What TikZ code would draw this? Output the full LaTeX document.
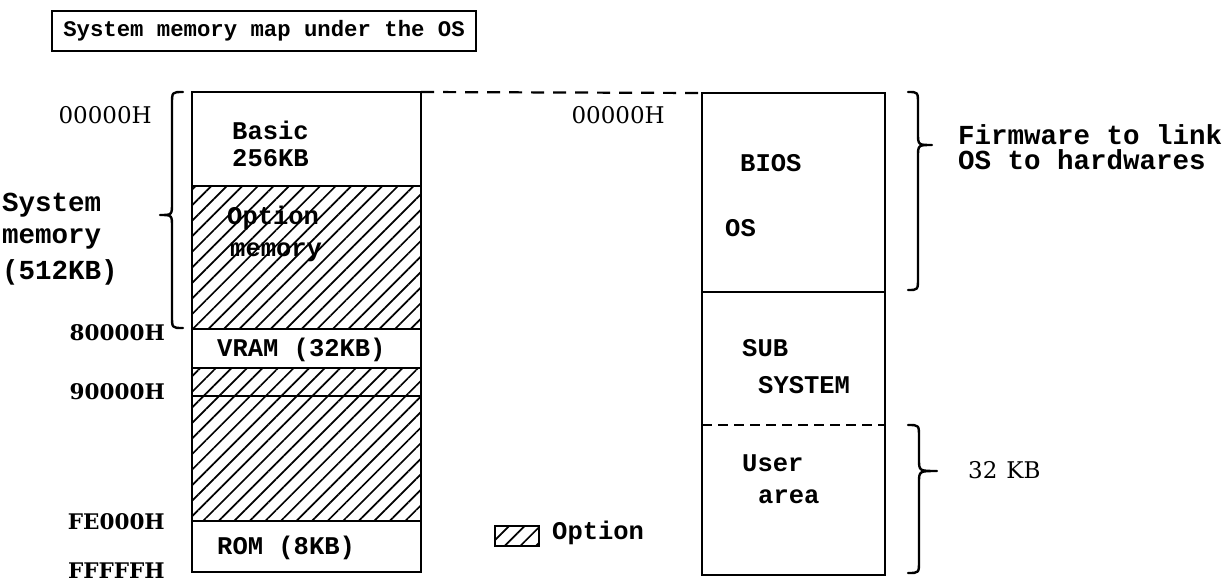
\documentclass[tikz,border=0pt]{standalone}
\usepackage{fontspec}
\usetikzlibrary{patterns.meta}
\newfontfamily\tw{Liberation Mono}
\newfontfamily\sr{DejaVu Serif}
\begin{document}
\begin{tikzpicture}[x=1pt,y=-1pt,
  lbl/.style={inner sep=0pt, anchor=west, font=\tw\bfseries\fontsize{25.5}{28}\selectfont},
  biglbl/.style={inner sep=0pt, anchor=west, font=\tw\bfseries\fontsize{27.5}{30}\selectfont},
  hexr/.style={inner sep=0pt, anchor=east, font=\sr\fontsize{23}{26}\selectfont},
  hexb/.style={inner sep=0pt, anchor=east, font=\sr\bfseries\fontsize{21.5}{24}\selectfont},
  cell/.style={draw, line width=2.8pt, inner sep=0pt, outer sep=0pt, anchor=north west, minimum width=229pt},
  hatch/.style={pattern={Lines[angle=45,distance=11pt,line width=1.7pt]}},
  brace/.style={line width=2.4pt, line cap=round, line join=round}]
\useasboundingbox (0,0) rectangle (1232,584);

% title
\node[draw, line width=2pt, minimum width=424pt, minimum height=40pt, inner sep=0pt,
  font=\tw\bfseries\fontsize{22.3}{25}\selectfont] (title) at (264,31) {System memory map under the OS};

% left memory block
\node[cell, minimum height=94pt] (basic) at (192,92) {};
\node[cell, hatch, minimum height=143pt] (optm) at (192,186) {};
\node[cell, minimum height=39pt] (vram) at (192,329) {};
\node[cell, hatch, minimum height=28pt] (band) at (192,368) {};
\node[cell, hatch, minimum height=125pt] (big) at (192,396) {};
\node[cell, minimum height=51pt] (rom) at (192,521) {};

\node[lbl] (tbasic) at (232,130) {Basic};
\node[lbl] (t256) at (232,158) {256KB};
\node[lbl] (topt) at (227,218) {Option};
\node[lbl] (tmem) at (230,252) {memory};
\node[lbl] (tvram) at (217,350) {VRAM (32KB)};
\node[lbl] (trom) at (217,548) {ROM (8KB)};

% left addresses
\node[hexr] (a0) at (152,115) {00000H};
\node[hexb] (a8) at (165,333) {80000H};
\node[hexb] (a9) at (165,392) {90000H};
\node[hexb] (afe) at (165,522) {FE000H};
\node[hexb] (aff) at (165,571) {FFFFFH};

\node[biglbl] (sys1) at (2,205) {System};
\node[biglbl] (sys2) at (2,239) {memory};
\node[biglbl] (sys3) at (2,272) {(512KB)};

% left brace
\draw[brace] (183,92) .. controls (172,92) .. (172,104) -- (172,203)
  .. controls (172,215) .. (160,215) .. controls (172,215) .. (172,227)
  -- (172,316) .. controls (172,328) .. (183,328);

% right block
\node[draw, line width=2.8pt, inner sep=0pt, outer sep=0pt, anchor=north west,
  minimum width=183pt, minimum height=482pt] (rblk) at (702,93) {};
\coordinate (d1w) at (702,292);
\coordinate (d1e) at (885,292);
\coordinate (d2w) at (702,425);
\coordinate (d2e) at (885,425);
\draw[line width=2.8pt] (d1w) -- (d1e);
\draw[line width=2.2pt, dash pattern=on 10pt off 6pt] (d2w) -- (d2e);

\draw[line width=2.2pt, dash pattern=on 13pt off 9pt] (basic.north east) -- (rblk.north west);

\node[hexr] (b0) at (665,115) {00000H};
\node[lbl] (tbios) at (740,163) {BIOS};
\node[lbl] (tos) at (725,228) {OS};
\node[lbl] (tsub) at (742,348) {SUB};
\node[lbl] (tsys) at (758,385) {SYSTEM};
\node[lbl] (tuser) at (742,463) {User};
\node[lbl] (tarea) at (758,497) {area};

% right braces
\draw[brace] (908,92) .. controls (918,92) .. (918,104) -- (918,133)
  .. controls (918,145) .. (932,145) .. controls (918,145) .. (918,157)
  -- (918,278) .. controls (918,290) .. (908,290);
\draw[brace] (908,425) .. controls (919,425) .. (919,437) -- (919,459)
  .. controls (919,471) .. (937,471) .. controls (919,471) .. (919,483)
  -- (919,561) .. controls (919,573) .. (908,573);

\node[biglbl] (fw1) at (958,135) {Firmware to link};
\node[biglbl] (fw2) at (958,160) {OS to hardwares};
\node[inner sep=0pt, anchor=west, font=\sr\fontsize{23}{26}\selectfont] (t32) at (968,470) {32\hspace{9pt}KB};

% legend
\node[draw, line width=2.8pt, hatch, minimum width=44pt, minimum height=20pt, inner sep=0pt] (leg) at (517,536) {};
\node[lbl] (legt) at (552,533) {Option};
\end{tikzpicture}
\end{document}
